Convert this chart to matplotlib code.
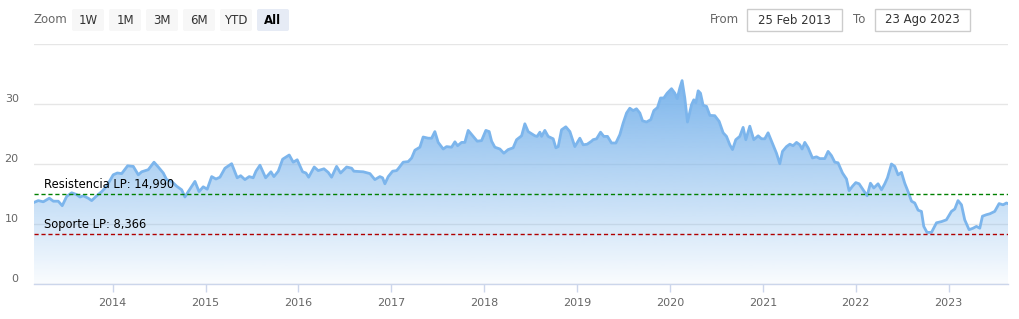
import numpy as np
import matplotlib
matplotlib.use('Agg')
import matplotlib.pyplot as plt
from matplotlib.patches import Polygon, FancyBboxPatch, Rectangle

# price series (decimal year, value)
years = [2013.153, 2013.199, 2013.253, 2013.318, 2013.361, 2013.414, 2013.457, 2013.505,
         2013.559, 2013.612, 2013.648, 2013.684, 2013.737, 2013.774, 2013.828, 2013.882,
         2013.935, 2014.006, 2014.050, 2014.097, 2014.161, 2014.222, 2014.276, 2014.312,
         2014.383, 2014.445, 2014.491, 2014.545, 2014.581, 2014.635, 2014.689, 2014.743,
         2014.778, 2014.814, 2014.886, 2014.930, 2014.975, 2015.018, 2015.066, 2015.112,
         2015.155, 2015.209, 2015.281, 2015.341, 2015.378, 2015.424, 2015.470, 2015.513,
         2015.543, 2015.586, 2015.647, 2015.704, 2015.736, 2015.783, 2015.830, 2015.901,
         2015.944, 2015.987, 2016.045, 2016.081, 2016.110, 2016.170, 2016.213, 2016.275,
         2016.321, 2016.357, 2016.411, 2016.454, 2016.519, 2016.573, 2016.597, 2016.698,
         2016.770, 2016.823, 2016.877, 2016.906, 2016.931, 2016.967, 2017.014, 2017.057,
         2017.074, 2017.128, 2017.182, 2017.219, 2017.254, 2017.308, 2017.343, 2017.397,
         2017.434, 2017.469, 2017.505, 2017.559, 2017.595, 2017.649, 2017.685, 2017.714,
         2017.757, 2017.792, 2017.828, 2017.882, 2017.925, 2017.972, 2018.018, 2018.054,
         2018.080, 2018.115, 2018.169, 2018.212, 2018.258, 2018.312, 2018.349, 2018.403,
         2018.438, 2018.474, 2018.546, 2018.570, 2018.600, 2018.618, 2018.653, 2018.689,
         2018.743, 2018.772, 2018.797, 2018.833, 2018.879, 2018.923, 2018.976, 2019.030,
         2019.066, 2019.109, 2019.156, 2019.173, 2019.210, 2019.253, 2019.288, 2019.328,
         2019.371, 2019.418, 2019.461, 2019.496, 2019.533, 2019.568, 2019.604, 2019.640,
         2019.676, 2019.705, 2019.748, 2019.794, 2019.827, 2019.866, 2019.899, 2019.934,
         2019.970, 2020.017, 2020.053, 2020.078, 2020.107, 2020.131, 2020.160, 2020.189,
         2020.233, 2020.257, 2020.279, 2020.304, 2020.329, 2020.357, 2020.394, 2020.430,
         2020.483, 2020.530, 2020.573, 2020.609, 2020.645, 2020.674, 2020.709, 2020.752,
         2020.788, 2020.817, 2020.860, 2020.903, 2020.950, 2020.986, 2021.021, 2021.057,
         2021.094, 2021.147, 2021.183, 2021.212, 2021.255, 2021.291, 2021.326, 2021.363,
         2021.398, 2021.423, 2021.452, 2021.488, 2021.535, 2021.578, 2021.614, 2021.667,
         2021.703, 2021.739, 2021.775, 2021.810, 2021.858, 2021.901, 2021.929, 2021.966,
         2022.001, 2022.037, 2022.080, 2022.123, 2022.159, 2022.195, 2022.241, 2022.278,
         2022.313, 2022.342, 2022.385, 2022.421, 2022.456, 2022.493, 2022.528, 2022.564,
         2022.601, 2022.636, 2022.672, 2022.708, 2022.733, 2022.768, 2022.816, 2022.870,
         2022.924, 2022.977, 2023.031, 2023.067, 2023.102, 2023.139, 2023.174, 2023.221,
         2023.264, 2023.300, 2023.336, 2023.365, 2023.408, 2023.444, 2023.497, 2023.544,
         2023.587, 2023.623, 2023.640]
prices = [13.6, 13.9, 13.7, 14.3, 13.8, 13.8, 13.05, 14.6,
          15.2, 14.9, 14.5, 14.7, 14.3, 13.9, 14.7, 15.4,
          16.3, 18.2, 18.5, 18.4, 19.7, 19.6, 18.2, 18.7,
          19.05, 20.3, 19.5, 18.5, 17.4, 17.1, 16.3, 15.7,
          14.5, 15.4, 17.1, 15.4, 16.2, 15.8, 17.9, 17.5,
          17.8, 19.3, 20.05, 17.7, 18.05, 17.4, 17.9, 17.7,
          18.8, 19.8, 17.7, 18.7, 17.9, 18.8, 20.8, 21.5,
          20.3, 20.7, 18.7, 18.5, 17.8, 19.5, 18.9, 19.2,
          18.6, 17.8, 19.6, 18.5, 19.5, 19.3, 18.8, 18.7,
          18.4, 17.4, 17.9, 17.7, 16.7, 17.9, 18.8, 18.9,
          19.2, 20.3, 20.4, 21.0, 22.3, 22.8, 24.5, 24.3,
          24.3, 25.4, 23.6, 22.5, 22.9, 22.8, 23.7, 23.05,
          23.6, 23.6, 25.6, 24.6, 23.8, 23.9, 25.6, 25.4,
          23.8, 22.8, 22.5, 21.8, 22.4, 22.7, 24.05, 24.7,
          26.7, 25.4, 24.7, 24.6, 25.3, 24.6, 25.6, 24.6,
          24.2, 22.7, 22.9, 25.7, 26.2, 25.4, 22.9, 24.3,
          23.2, 23.3, 23.8, 24.05, 24.2, 25.3, 24.6, 24.6,
          23.5, 23.5, 24.9, 26.8, 28.5, 29.3, 28.9, 29.2,
          28.5, 27.2, 27.0, 27.4, 28.9, 29.4, 31.0, 31.0,
          31.8, 32.55, 31.8, 30.9, 32.7, 33.9, 31.0, 27.0,
          29.9, 30.7, 30.2, 32.2, 31.8, 29.8, 29.6, 28.1,
          28.05, 27.1, 25.2, 24.6, 23.2, 22.4, 24.05, 24.6,
          26.1, 24.05, 26.3, 24.05, 24.7, 24.2, 24.2, 25.2,
          23.8, 21.8, 20.05, 22.1, 22.9, 23.3, 23.05, 23.6,
          23.2, 22.5, 23.6, 22.7, 21.0, 21.2, 20.9, 20.9,
          22.1, 21.4, 20.3, 20.2, 18.5, 17.5, 15.55, 16.3,
          16.9, 16.7, 15.7, 14.7, 16.8, 16.0, 16.7, 15.7,
          16.7, 17.7, 20.0, 19.6, 18.2, 18.6, 16.8, 15.4,
          13.8, 13.5, 12.3, 12.1, 9.6, 8.6, 8.6, 10.2,
          10.4, 10.7, 12.1, 12.5, 13.9, 13.2, 10.7, 9.05,
          9.3, 9.6, 9.3, 11.3, 11.55, 11.7, 12.1, 13.4,
          13.2, 13.5, 13.4]

year_ticks = [2014, 2015, 2016, 2017, 2018, 2019, 2020, 2021, 2022, 2023]
y_ticks = [0, 10, 20, 30, 40]
resistencia = 14.990
soporte = 8.366
buttons = ['1W', '1M', '3M', '6M', 'YTD', 'All']
date_from = '25 Feb 2013'
date_to = '23 Ago 2023'

W, H = 1020, 319
fig = plt.figure(figsize=(W / 100, H / 100), dpi=100)
fig.patch.set_facecolor('white')

ax = fig.add_axes([34 / W, 35 / H, 974 / W, 240 / H])

x = np.array(years)
y = np.array(prices)

# gradient fill under the line
rgb = np.array([124, 181, 236]) / 255.0
n = 256
grad = np.zeros((n, 1, 4))
grad[:, 0, :3] = rgb
grad[:, 0, 3] = np.linspace(1.0, 0.04, n)
ymax = y.max()
im = ax.imshow(grad, extent=[x[0], x[-1], 0, ymax], aspect='auto', origin='upper', zorder=1)
verts = [(x[0], 0)] + list(zip(x, y)) + [(x[-1], 0)]
poly = Polygon(verts, closed=True, facecolor='none', edgecolor='none')
ax.add_patch(poly)
im.set_clip_path(poly)
ax.set_xlim(years[0], years[-1])
ax.set_ylim(0, 40)

ax.plot(x, y, color='#7cb5ec', lw=2, zorder=3, solid_joinstyle='round')

# support / resistance lines
ax.axhline(resistencia, color='#008000', lw=1, ls=(0, (3, 2)), zorder=4)
ax.axhline(soporte, color='#b00000', lw=1, ls=(0, (3, 2)), zorder=4)
ax.text(2013.26, resistencia + 0.45, 'Resistencia LP: 14,990', fontsize=8.3, color='black',
        va='bottom', ha='left', zorder=5)
ax.text(2013.26, soporte + 0.45, 'Soporte LP: 8,366', fontsize=8.3, color='black',
        va='bottom', ha='left', zorder=5)

# axes styling
ax.set_yticks(y_ticks)
ax.set_yticklabels(['0', '10', '20', '30', ''])
ax.grid(axis='y', color='#e6e6e6', lw=1, zorder=0)
ax.set_xticks(year_ticks)
ax.set_xticklabels([str(t) for t in year_ticks])
for s in ['top', 'right', 'left']:
    ax.spines[s].set_visible(False)
ax.spines['bottom'].set_color('#ccd6eb')
ax.spines['bottom'].set_linewidth(1)
ax.tick_params(axis='x', colors='#ccd6eb', labelcolor='#666666', length=6, width=1,
               labelsize=8, pad=4)
ax.tick_params(axis='y', length=0, labelcolor='#666666', labelsize=8, pad=11)
for lab in ax.get_yticklabels():
    lab.set_verticalalignment('bottom')
ax.set_axisbelow(True)

# range selector / date inputs drawn in pixel space
top = fig.add_axes([0, 0, 1, 1], zorder=-1)
top.set_xlim(0, W)
top.set_ylim(H, 0)
top.axis('off')
top.text(34, 19.5, 'Zoom', fontsize=8.5, color='#666666', va='center', ha='left')
bx = 72
for b in buttons:
    face = '#e6ebf5' if b == 'All' else '#f7f7f7'
    top.add_patch(FancyBboxPatch((bx, 9), 32, 22, boxstyle='round,pad=0,rounding_size=2',
                                 facecolor=face, edgecolor='none'))
    top.text(bx + 16, 20, b, fontsize=8.5, color='#000000' if b == 'All' else '#333333',
             fontweight='bold' if b == 'All' else 'normal', va='center', ha='center')
    bx += 37

top.text(710, 19.5, 'From', fontsize=8.5, color='#666666', va='center', ha='left')
top.add_patch(Rectangle((747, 9), 95, 22, facecolor='white', edgecolor='#cccccc', lw=1))
top.text(794.5, 20, date_from, fontsize=8.5, color='#333333', va='center', ha='center')
top.text(853, 19.5, 'To', fontsize=8.5, color='#666666', va='center', ha='left')
top.add_patch(Rectangle((875, 9), 95, 22, facecolor='white', edgecolor='#cccccc', lw=1))
top.text(922.5, 20, date_to, fontsize=8.5, color='#333333', va='center', ha='center')

fig.savefig('out.png', dpi=100)
